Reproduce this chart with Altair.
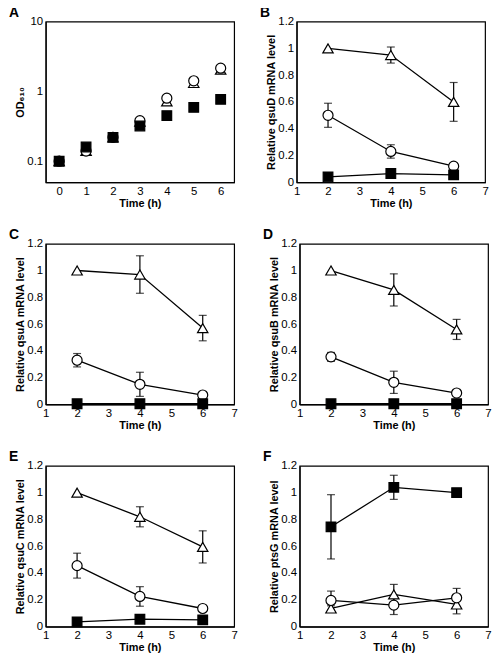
import altair as alt
import pandas as pd

FONT = "Liberation Sans"

# ---- Panel A: growth (OD610), log scale ----
time_a = [0, 1, 2, 3, 4, 5, 6]
od_triangle = [0.10, 0.14, 0.22, 0.37, 0.72, 1.32, 2.05]
od_circle = [0.10, 0.14, 0.22, 0.38, 0.80, 1.42, 2.15]
od_square = [0.10, 0.16, 0.22, 0.32, 0.45, 0.59, 0.77]

# ---- Panels B-F: relative mRNA levels ----
time_h = [2, 4, 6]

b_tri = [1.00, 0.95, 0.60]
b_tri_err = [0.0, 0.06, 0.145]
b_cir = [0.50, 0.23, 0.12]
b_cir_err = [0.09, 0.05, 0.02]
b_sq = [0.04, 0.065, 0.055]
b_sq_err = [0.0, 0.0, 0.0]

c_tri = [1.00, 0.97, 0.57]
c_tri_err = [0.0, 0.14, 0.095]
c_cir = [0.33, 0.15, 0.07]
c_cir_err = [0.05, 0.09, 0.01]
c_sq = [0.005, 0.005, 0.005]
c_sq_err = [0.0, 0.0, 0.0]

d_tri = [1.00, 0.855, 0.56]
d_tri_err = [0.0, 0.12, 0.075]
d_cir = [0.355, 0.165, 0.085]
d_cir_err = [0.033, 0.083, 0.01]
d_sq = [0.005, 0.005, 0.005]
d_sq_err = [0.0, 0.0, 0.0]

e_tri = [1.00, 0.82, 0.595]
e_tri_err = [0.0, 0.075, 0.12]
e_cir = [0.455, 0.225, 0.135]
e_cir_err = [0.093, 0.073, 0.01]
e_sq = [0.035, 0.055, 0.05]
e_sq_err = [0.0, 0.0, 0.0]

f_tri = [0.135, 0.24, 0.165]
f_tri_err = [0.02, 0.075, 0.07]
f_cir = [0.195, 0.16, 0.215]
f_cir_err = [0.07, 0.07, 0.07]
f_sq = [0.745, 1.04, 1.00]
f_sq_err = [0.24, 0.09, 0.0]

SERIES = ["triangle", "circle", "square"]
SHAPES = ["triangle-up", "circle", "square"]
FILLS = ["white", "white", "black"]
SIZES = [110, 95, 90]

PW, PH = 190, 162


def long_df(times, tri, cir, sq, tri_e=None, cir_e=None, sq_e=None):
    rows = []
    for name, vals, errs in (("triangle", tri, tri_e), ("circle", cir, cir_e), ("square", sq, sq_e)):
        for i, t in enumerate(times):
            e = errs[i] if errs is not None else 0.0
            rows.append({"t": t, "v": vals[i], "lo": vals[i] - e, "hi": vals[i] + e,
                         "err": e, "series": name})
    return pd.DataFrame(rows)


def panel(letter, ytitle, df, xdom, xvals, ydom, yvals, log=False, lines=True):
    base = alt.Chart(df)
    xscale = alt.Scale(domain=xdom, nice=False, zero=False)
    if log:
        yscale = alt.Scale(type="log", domain=ydom, nice=False)
    else:
        yscale = alt.Scale(domain=ydom, nice=False)
    xaxis = alt.Axis(values=xvals, title="Time (h)", format="d",
                     labelOverlap=False, labelFlush=False)
    yaxis = alt.Axis(values=yvals, title=ytitle, format="~g",
                     labelOverlap=False, labelFlush=False)

    def X(field):
        return alt.X(field, type="quantitative", scale=xscale, axis=xaxis)

    def Y(field):
        return alt.Y(field, type="quantitative", scale=yscale, axis=yaxis)

    layers = []
    if lines:
        layers.append(base.mark_line(color="black", strokeWidth=1.3).encode(
            x=X("t"), y=Y("v"), detail="series:N"))
    errdf = df[df["err"] > 0]
    if len(errdf):
        eb = alt.Chart(errdf)
        layers.append(eb.mark_rule(color="black", strokeWidth=1.2).encode(
            x=X("t"), y=Y("lo"), y2="hi:Q"))
        layers.append(eb.mark_tick(color="black", orient="horizontal", size=8, thickness=1.2).encode(
            x=X("t"), y=Y("lo")))
        layers.append(eb.mark_tick(color="black", orient="horizontal", size=8, thickness=1.2).encode(
            x=X("t"), y=Y("hi")))
    layers.append(base.mark_point(filled=True, stroke="black", strokeWidth=1.2, opacity=1).encode(
        x=X("t"), y=Y("v"),
        shape=alt.Shape("series:N", scale=alt.Scale(domain=SERIES, range=SHAPES), legend=None),
        fill=alt.Fill("series:N", scale=alt.Scale(domain=SERIES, range=FILLS), legend=None),
        size=alt.Size("series:N", scale=alt.Scale(domain=SERIES, range=SIZES), legend=None),
    ))
    return alt.layer(*layers).properties(
        width=PW, height=PH,
        title=alt.TitleParams(letter, anchor="start", fontSize=14, fontWeight="bold",
                              font=FONT, dx=-6, offset=-4, color="black"),
    )


df_a = long_df(time_a, od_triangle, od_circle, od_square)
df_b = long_df(time_h, b_tri, b_cir, b_sq, b_tri_err, b_cir_err, b_sq_err)
df_c = long_df(time_h, c_tri, c_cir, c_sq, c_tri_err, c_cir_err, c_sq_err)
df_d = long_df(time_h, d_tri, d_cir, d_sq, d_tri_err, d_cir_err, d_sq_err)
df_e = long_df(time_h, e_tri, e_cir, e_sq, e_tri_err, e_cir_err, e_sq_err)
df_f = long_df(time_h, f_tri, f_cir, f_sq, f_tri_err, f_cir_err, f_sq_err)

lin_vals = [0, 0.2, 0.4, 0.6, 0.8, 1, 1.2]
x_vals = [1, 2, 3, 4, 5, 6, 7]

pa = panel("A", "OD₆₁₀", df_a, [-0.5, 6.5], time_a, [0.05, 10], [0.1, 1, 10], log=True, lines=False)
pb = panel("B", "Relative qsuD mRNA level", df_b, [1, 7], x_vals, [0, 1.2], lin_vals)
pc = panel("C", "Relative qsuA mRNA level", df_c, [1, 7], x_vals, [0, 1.2], lin_vals)
pd_ = panel("D", "Relative qsuB mRNA level", df_d, [1, 7], x_vals, [0, 1.2], lin_vals)
pe = panel("E", "Relative qsuC mRNA level", df_e, [1, 7], x_vals, [0, 1.2], lin_vals)
pf = panel("F", "Relative ptsG mRNA level", df_f, [1, 7], x_vals, [0, 1.2], lin_vals)

chart = alt.vconcat(
    alt.hconcat(pa, pb, spacing=24),
    alt.hconcat(pc, pd_, spacing=24),
    alt.hconcat(pe, pf, spacing=24),
    spacing=17,
    padding={"top": -6, "left": 0, "right": 0, "bottom": 0},
).configure(background="white").configure_view(
    stroke="black", strokeWidth=1.2
).configure_axis(
    labelFont=FONT, titleFont=FONT, labelFontSize=11.5, titleFontSize=11,
    titleFontWeight="bold", labelColor="black", titleColor="black",
    domainColor="black", domainWidth=1.2, ticks=False, grid=False, labelPadding=3,
    titlePadding=1,
)

chart.save("out.html", embed_options={"renderer": "svg", "actions": False})
